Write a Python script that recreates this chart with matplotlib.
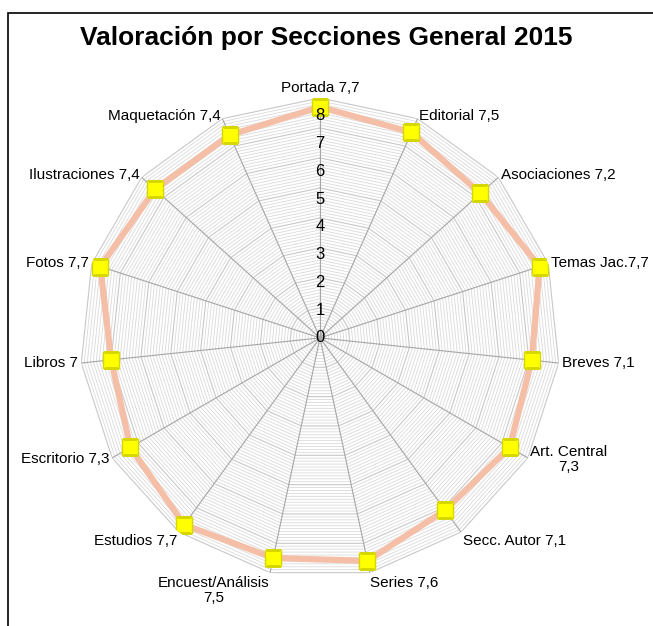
import numpy as np
import matplotlib.pyplot as plt
from matplotlib.patches import Rectangle

plt.rcParams['font.family'] = ['Liberation Sans', 'DejaVu Sans']

categorias = ['Portada', 'Editorial', 'Asociaciones', 'Temas Jac.', 'Breves',
              'Art. Central', 'Secc. Autor', 'Series', 'Encuest/Análisis',
              'Estudios', 'Escritorio', 'Libros', 'Fotos', 'Ilustraciones',
              'Maquetación']
valores = [7.7, 7.5, 7.2, 7.7, 7.1, 7.3, 7.1, 7.6, 7.5, 7.7, 7.3, 7.0, 7.7, 7.4, 7.4]
etiquetas = ['Portada 7,7', 'Editorial 7,5', 'Asociaciones 7,2', 'Temas Jac.7,7',
             'Breves 7,1', 'Art. Central\n7,3', 'Secc. Autor 7,1', 'Series 7,6',
             'Encuest/Análisis\n7,5', 'Estudios 7,7', 'Escritorio 7,3', 'Libros 7',
             'Fotos 7,7', 'Ilustraciones 7,4', 'Maquetación 7,4']
ticks = [0, 1, 2, 3, 4, 5, 6, 7, 8]

n = len(categorias)
ang = np.linspace(0, 2 * np.pi, n, endpoint=False)
ang_c = np.append(ang, ang[0])

fig = plt.figure(figsize=(6.53, 6.26), dpi=100)
fig.add_artist(Rectangle((8 / 653, -0.01), 1.0, 1 - 13 / 626 + 0.01,
                         transform=fig.transFigure, fill=False,
                         edgecolor='black', lw=1.2))
fig.text(0.5, 0.94, 'Valoración por Secciones General 2015', ha='center',
         va='center', fontsize=19, fontweight='bold')

ax = fig.add_axes([0.1225, 0.0767, 0.735, 0.767], projection='polar')
ax.set_theta_offset(np.pi / 2)
ax.set_theta_direction(-1)
ax.set_ylim(0, 8)
ax.grid(False)
ax.set_xticks([])
ax.set_yticks([])
ax.spines['polar'].set_visible(False)
ax.patch.set_alpha(0)

# anillos poligonales
for r in np.arange(0.1, 8.01, 0.1):
    mayor = abs(r - round(r)) < 1e-6
    ax.plot(ang_c, [r] * (n + 1), color='#c8c8c8' if mayor else '#dadada',
            lw=0.8 if mayor else 0.6, zorder=1)
for a in ang:
    ax.plot([a, a], [0, 8], color='#a6a6a6', lw=0.8, zorder=2)

for t in ticks:
    ax.text(0, t * 0.925, str(t), ha='center', va='center', fontsize=12,
            color='black', zorder=5)

v = np.append(valores, valores[0])
ax.plot(ang_c, v, color='#f4bfa6', lw=4.5, zorder=3)
ax.plot(ang, valores, ls='none', marker='s', markersize=12,
        markerfacecolor='#ffff00', markeredgecolor='#d6d600', zorder=4)

for a, lab in zip(ang, etiquetas):
    s, c = np.sin(a), np.cos(a)
    ha = 'left' if s > 0.05 else ('right' if s < -0.05 else 'center')
    if c > 0.95:
        va = 'bottom'
    elif c < -0.6:
        va = 'top'
    else:
        va = 'center'
    ax.text(a, 8.1, lab, ha=ha, va=va, fontsize=11, multialignment='center',
            linespacing=1.1, zorder=5)

fig.savefig('out.png', dpi=100)
